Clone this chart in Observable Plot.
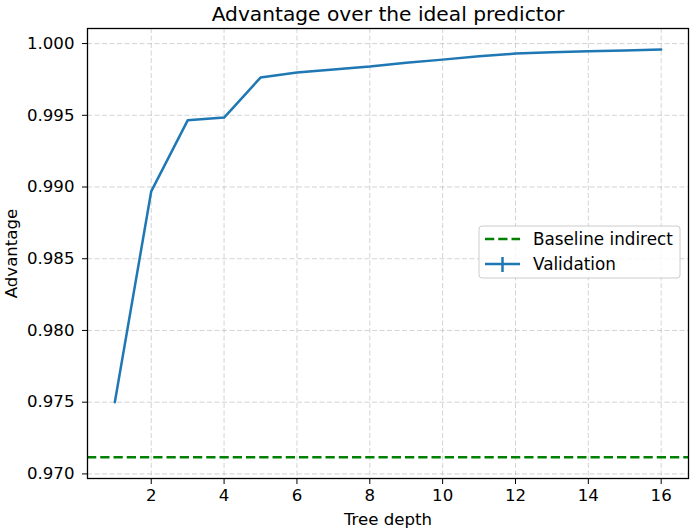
<!DOCTYPE html>
<html>
<head>
<meta charset="utf-8">
<script src="https://cdn.jsdelivr.net/npm/d3@7"></script>
<script src="https://cdn.jsdelivr.net/npm/@observablehq/plot@0.6"></script>
<style>
  html, body { margin: 0; padding: 0; background: white; }
  svg { display: block; }
</style>
</head>
<body>
<div id="chart"></div>
<script>
// ---- data ----
const depths = [1, 2, 3, 4, 5, 6, 7, 8, 9, 10, 11, 12, 13, 14, 15, 16];
const validation = [0.9750, 0.9897, 0.99465, 0.99484, 0.99763, 0.99798, 0.9982, 0.9984,
                    0.99866, 0.99888, 0.99911, 0.9993, 0.9994, 0.99946, 0.99952, 0.99958];
const baselineIndirect = 0.97116;
const xTicks = [2, 4, 6, 8, 10, 12, 14, 16];
const yTicks = [0.970, 0.975, 0.980, 0.985, 0.990, 0.995, 1.000];
const titleText = "Advantage over the ideal predictor";
const xLabel = "Tree depth";
const yLabel = "Advantage";
const legendLabels = ["Baseline indirect", "Validation"];

const rows = depths.map((d, i) => ({depth: d, value: validation[i]}));

const gridStyle = {stroke: "#b0b0b0", strokeOpacity: 0.55, strokeDasharray: "5,2.5", strokeWidth: 1};

const chart = Plot.plot({
  width: 690,
  height: 529,
  marginLeft: 87,
  marginRight: 2,
  marginTop: 28,
  marginBottom: 51,
  style: {fontFamily: "DejaVu Sans", fontSize: "16.6px", color: "#000", background: "white", overflow: "visible"},
  x: {domain: [0.25, 16.75]},
  y: {domain: [0.96968, 1.00105]},
  marks: [
    Plot.gridX(xTicks, gridStyle),
    Plot.gridY(yTicks, gridStyle),
    Plot.ruleY([baselineIndirect], {stroke: "green", strokeWidth: 2.5, strokeDasharray: "9.25,4"}),
    Plot.line(rows, {x: "depth", y: "value", stroke: "#1f77b4", strokeWidth: 2.5}),
    Plot.frame({stroke: "#000", strokeWidth: 1.3}),
    Plot.axisX(xTicks, {tickSize: 6, tickPadding: 5, label: xLabel, labelAnchor: "center", labelArrow: "none", labelOffset: 46}),
    Plot.axisY(yTicks, {tickSize: 5, tickPadding: 8, tickFormat: d3.format(".3f"), label: yLabel, labelAnchor: "center", labelArrow: "none", labelOffset: 82}),
    Plot.text([titleText], {text: d => d, frameAnchor: "top", dy: -8, lineAnchor: "bottom", fontSize: 20.2})
  ]
});

// ---- legend (layout only) ----
const svg = d3.select(chart);
const lg = svg.append("g").attr("font-family", "DejaVu Sans").attr("font-size", 16.8).attr("text-anchor", "start");
lg.append("rect").attr("x", 479).attr("y", 226).attr("width", 201).attr("height", 52)
  .attr("rx", 3).attr("fill", "white").attr("fill-opacity", 0.8).attr("stroke", "#cccccc").attr("stroke-width", 1);
lg.append("line").attr("x1", 485).attr("x2", 520).attr("y1", 239).attr("y2", 239)
  .attr("stroke", "green").attr("stroke-width", 2.5).attr("stroke-dasharray", "9.25,4");
lg.append("text").attr("x", 533).attr("y", 239).attr("dy", "0.35em").text(legendLabels[0]);
lg.append("line").attr("x1", 485).attr("x2", 520).attr("y1", 264).attr("y2", 264)
  .attr("stroke", "#1f77b4").attr("stroke-width", 2.5);
lg.append("line").attr("x1", 502.5).attr("x2", 502.5).attr("y1", 257).attr("y2", 272)
  .attr("stroke", "#1f77b4").attr("stroke-width", 2.5);
lg.append("text").attr("x", 533).attr("y", 264).attr("dy", "0.35em").text(legendLabels[1]);

document.getElementById("chart").appendChild(chart);
</script>
</body>
</html>
